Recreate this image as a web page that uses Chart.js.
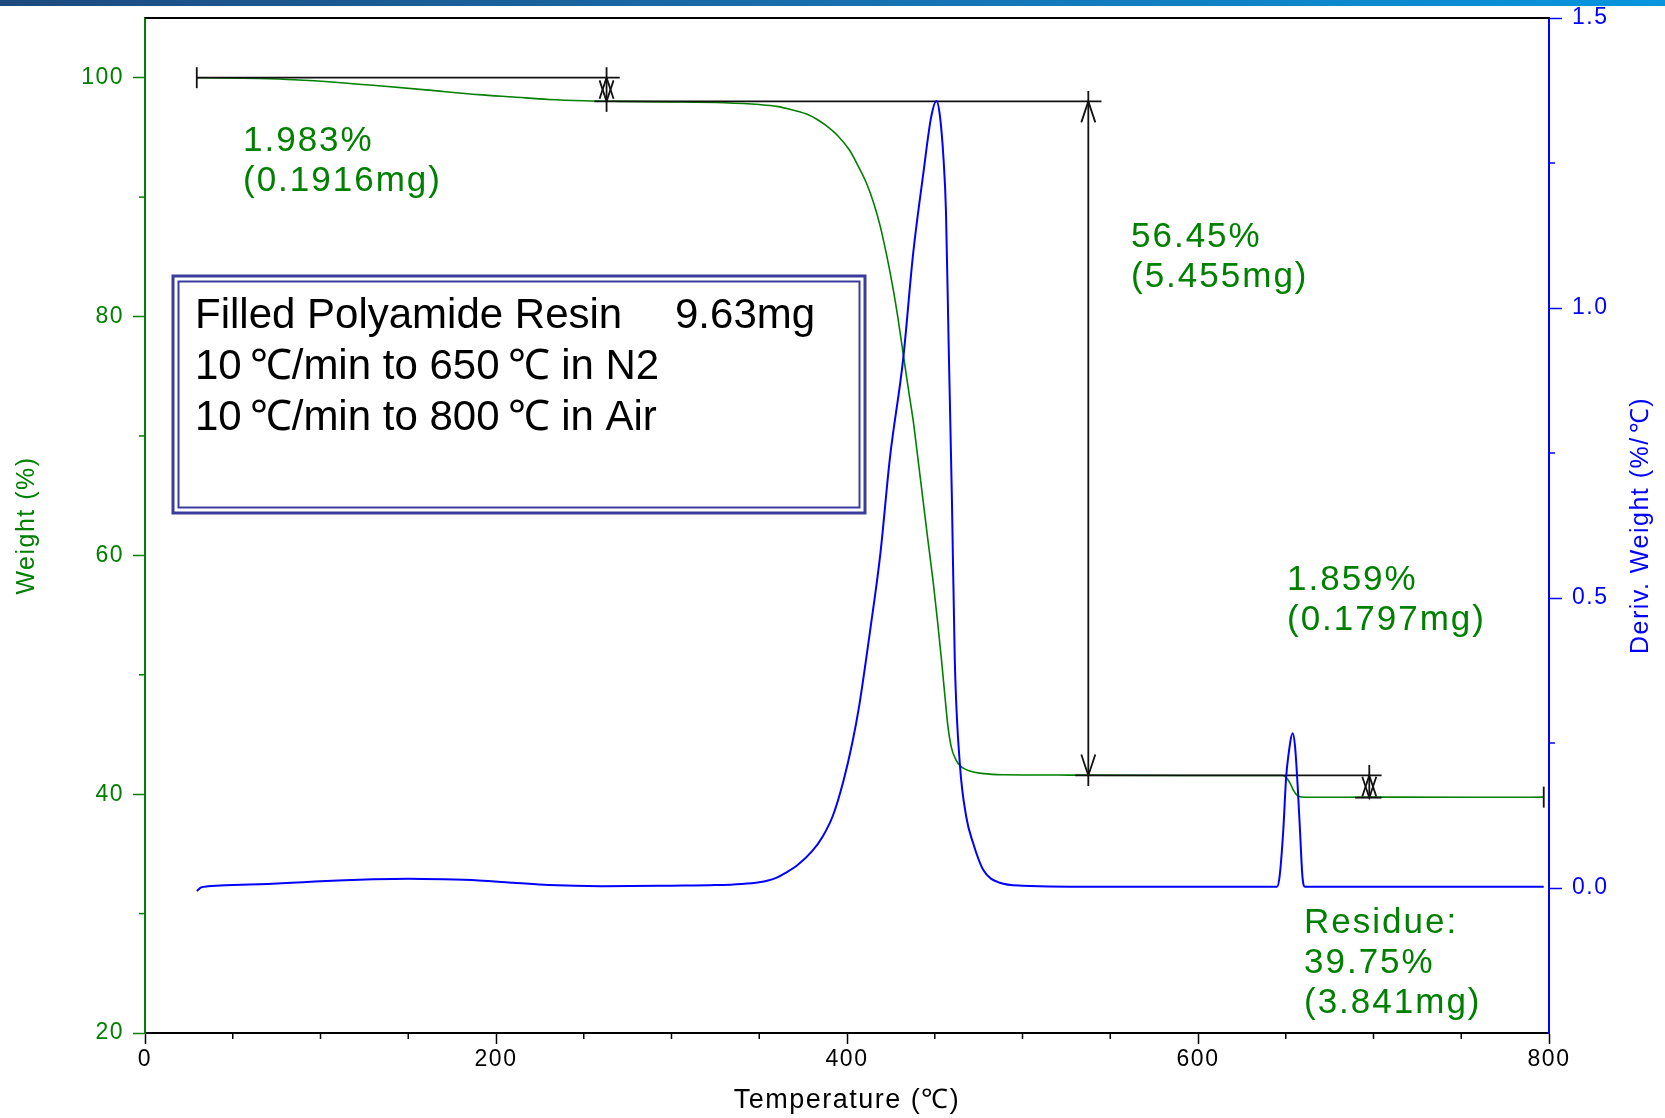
<!DOCTYPE html>
<html>
<head>
<meta charset="utf-8">
<title>TGA – Filled Polyamide Resin</title>
<script src="https://cdn.jsdelivr.net/npm/chart.js@4.4.1/dist/chart.umd.min.js"></script>
<style>
  html, body { margin: 0; padding: 0; background: #fff; }
  #wrap { position: relative; width: 1665px; height: 1118px; }
</style>
</head>
<body>
<div id="wrap"><canvas id="tga" width="1665" height="1118"></canvas></div>
<script>
// ---- Weight curve (Temperature °C -> Weight %) ----
const weightTemp = [29.5, 45, 65, 85, 110, 135, 160, 190, 210, 230, 250, 270, 300, 330, 350, 360, 369, 378, 383, 388,
  395, 401.6, 406, 411, 415, 418.7, 422.5, 426.3, 429, 432, 435, 437.7, 440.5, 443.4, 446, 449, 451.5, 453.8, 455.8, 457.6,
  459.5, 462, 465, 470, 478, 490, 520, 600, 648, 650.5, 652.5, 654.5, 656.5, 659, 663, 700, 760, 797];
const weightPct = [100.0, 99.98, 99.93, 99.83, 99.6, 99.3, 98.98, 98.58, 98.38, 98.18, 98.07, 98.02, 97.98, 97.9, 97.75, 97.6, 97.3, 96.9, 96.5, 96.0,
  95.1, 93.9, 92.7, 91.2, 89.6, 87.7, 85.2, 82.3, 79.9, 76.9, 73.9, 71.3, 68.0, 64.53, 61.4, 57.9, 54.6, 51.3, 48.2, 45.57,
  43.9, 42.9, 42.3, 41.95, 41.72, 41.63, 41.6, 41.57, 41.56, 41.35, 40.9, 40.3, 39.9, 39.76, 39.74, 39.75, 39.74, 39.75];

// ---- Derivative weight curve (Temperature °C -> %/°C) ----
const derivTemp = [29.5, 32, 36, 50, 70, 90, 110, 130, 150, 170, 190, 210, 230, 260, 300, 325, 340, 350, 355, 360,
  365, 372, 380, 386, 392, 398, 403, 407, 413, 419, 424.4, 432, 437.7, 443.4, 448, 451, 453, 455, 456.4, 457.9,
  459.8, 461.4, 464.3, 468, 471.8, 477.5, 487, 500, 550, 600, 645, 646.5, 648.6, 650.2, 651.4, 654, 655.3, 656.8, 658.1, 659.5,
  661, 700, 750, 797];
const derivRate = [-0.005, 0.001, 0.003, 0.005, 0.007, 0.010, 0.013, 0.015, 0.016, 0.015, 0.013, 0.009, 0.005, 0.003, 0.004, 0.005, 0.007, 0.01, 0.013, 0.018,
  0.026, 0.04, 0.063, 0.088, 0.125, 0.185, 0.25, 0.315, 0.44, 0.576, 0.74, 0.912, 1.094, 1.23, 1.33, 1.357, 1.33, 1.257, 1.166, 0.94,
  0.667, 0.395, 0.214, 0.122, 0.078, 0.032, 0.009, 0.004, 0.002, 0.002, 0.002, 0.02, 0.1, 0.19, 0.226, 0.267, 0.244, 0.175, 0.1, 0.02,
  0.002, 0.002, 0.002, 0.002];

// ---- Axis ticks ----
const tempTicks = [0, 200, 400, 600, 800];
const tempMinorTicks = [50, 100, 150, 250, 300, 350, 450, 500, 550, 650, 700, 750];
const weightTicks = [20, 40, 60, 80, 100];
const weightMinorTicks = [30, 50, 70, 90];
const derivTicks = [0.0, 0.5, 1.0, 1.5];
const derivMinorTicks = [0.25, 0.75, 1.25];

// ---- Step analysis ----
const stepLoss = [1.983, 56.45, 1.859];          // % lost in each step
const stepMass = ['0.1916', '5.455', '0.1797'];  // mg lost in each step
const stepMarkerTemp = [263, 537.5, 697.6];      // where each step is measured
const levelLineStart = [29.5, 256, 530, 689.5];  // bracket lines at each level (°C)
const levelLineEnd = [270.5, 545, 704.6, 704.6];
const residuePct = 39.75;
const residueMass = '3.841';
const residueEndTemp = 797;

const levels = [100];
stepLoss.forEach((l, i) => levels.push(+(levels[i] - l).toFixed(3)));

const FONT = '"Liberation Sans", Arial, sans-serif';
const GREEN = '#008000';
const BLUE = '#0000ff';

function tickSetter(values) {
  return scale => { scale.ticks = values.map(v => ({ value: v })); };
}

// fixed axis thickness, no extra label overhang in the layout
function fixSize(prop, size) {
  return s => {
    s[prop] = size;
    s.paddingTop = 0; s.paddingBottom = 0; s.paddingLeft = 0; s.paddingRight = 0;
  };
}

function seg(ctx, x1, y1, x2, y2) {
  ctx.beginPath(); ctx.moveTo(x1, y1); ctx.lineTo(x2, y2); ctx.stroke();
}

// text with a little extra room in front of each degree-Celsius sign
function celsiusWidth(ctx, text, gap) {
  const parts = text.split('℃');
  return ctx.measureText(text).width + gap * (parts.length - 1);
}
function fillCelsius(ctx, text, x, y, gap) {
  let cx = x;
  text.split('℃').forEach((p, i, arr) => {
    ctx.fillText(p, cx, y); cx += ctx.measureText(p).width;
    if (i < arr.length - 1) {
      cx += gap;
      ctx.fillText('℃', cx, y); cx += ctx.measureText('℃').width;
    }
  });
}

// arrowhead with its tip on a level; dir = -1 points up, +1 points down
function arrowHead(ctx, x, yTip, dir) {
  ctx.beginPath();
  ctx.moveTo(x - 7, yTip - dir * 21);
  ctx.lineTo(x, yTip);
  ctx.lineTo(x + 7, yTip - dir * 21);
  ctx.stroke();
}

function drawBrackets(chart) {
  const { ctx, scales: { x, yW } } = chart;
  const px = v => x.getPixelForValue(v);
  const py = v => yW.getPixelForValue(v);
  ctx.save();
  ctx.strokeStyle = '#111';
  ctx.lineWidth = 1.8;
  levels.forEach((lv, i) => seg(ctx, px(levelLineStart[i]), py(lv), px(levelLineEnd[i]), py(lv)));
  // start cap on the 100 % line
  seg(ctx, px(levelLineStart[0]), py(levels[0]) - 10.5, px(levelLineStart[0]), py(levels[0]) + 10.5);
  // step markers
  stepMarkerTemp.forEach((t, i) => {
    const xx = px(t), yTop = py(levels[i]), yBot = py(levels[i + 1]);
    seg(ctx, xx, yTop - 10.5, xx, yBot + (i === 2 ? 0 : 10.5));
    arrowHead(ctx, xx, yTop, -1);
    arrowHead(ctx, xx, yBot, 1);
  });
  // residue end cap
  seg(ctx, px(residueEndTemp), py(residuePct) - 10.5, px(residueEndTemp), py(residuePct) + 10.5);
  ctx.restore();
}

const decor = {
  id: 'decor',
  beforeDraw(chart) {
    chart.ctx.letterSpacing = '1.5px';
  },
  beforeDatasetDraw(chart, args) {
    if (args.index === 1) drawBrackets(chart);
  },
  afterDraw(chart) {
    const { ctx, chartArea: ca, scales: { x, yW, yD } } = chart;
    ctx.save();
    ctx.letterSpacing = '0px';

    // header band
    const g = ctx.createLinearGradient(0, 0, chart.width, 0);
    g.addColorStop(0, '#1d4a7e');
    g.addColorStop(0.5, '#176fae');
    g.addColorStop(1, '#0796de');
    ctx.fillStyle = g;
    ctx.fillRect(0, 0, chart.width, 6);

    // top frame
    ctx.strokeStyle = '#000';
    ctx.lineWidth = 2;
    seg(ctx, ca.left, ca.top, ca.right, ca.top);

    // minor ticks
    ctx.lineWidth = 1.5;
    ctx.strokeStyle = '#000';
    tempMinorTicks.forEach(v => { const p = x.getPixelForValue(v); seg(ctx, p, ca.bottom, p, ca.bottom + 6); });
    ctx.strokeStyle = GREEN;
    weightMinorTicks.forEach(v => { const p = yW.getPixelForValue(v); seg(ctx, ca.left, p, ca.left - 6, p); });
    ctx.strokeStyle = BLUE;
    derivMinorTicks.forEach(v => { const p = yD.getPixelForValue(v); seg(ctx, ca.right, p, ca.right + 6, p); });

    // right axis title, reading bottom to top
    ctx.save();
    ctx.letterSpacing = '1.5px';
    ctx.fillStyle = BLUE;
    ctx.font = '25px ' + FONT;
    ctx.textBaseline = 'middle';
    ctx.textAlign = 'left';
    const dTitle = 'Deriv. Weight (%/℃)';
    const dw = celsiusWidth(ctx, dTitle, 3);
    ctx.translate(1641, (ca.top + ca.bottom) / 2);
    ctx.rotate(-Math.PI / 2);
    fillCelsius(ctx, dTitle, -dw / 2, 0, 3);
    ctx.restore();

    // method box
    ctx.strokeStyle = '#3c3c9e';
    ctx.lineWidth = 3;
    ctx.strokeRect(173, 276, 692, 237);
    ctx.lineWidth = 2;
    ctx.strokeRect(178.5, 281.5, 681, 226);
    ctx.fillStyle = '#000';
    ctx.font = '42px ' + FONT;
    ctx.textBaseline = 'middle';
    ctx.textAlign = 'left';
    ctx.fillText('Filled Polyamide Resin', 195, 316);
    ctx.fillText('9.63mg', 675, 316);
    fillCelsius(ctx, '10℃/min to 650℃ in N2', 195, 367, 8);
    fillCelsius(ctx, '10℃/min to 800℃ in Air', 195, 418, 8);

    // step labels
    ctx.fillStyle = GREEN;
    ctx.font = '35px ' + FONT;
    ctx.letterSpacing = '2px';
    ctx.textBaseline = 'alphabetic';
    const labelPos = [[243, 151], [1131, 246.5], [1287, 590]];
    stepLoss.forEach((l, i) => {
      const [lx, ly] = labelPos[i];
      ctx.fillText(l + '%', lx, ly);
      ctx.fillText('(' + stepMass[i] + 'mg)', lx, ly + 40);
    });
    ctx.fillText('Residue:', 1304, 933);
    ctx.fillText(residuePct + '%', 1304, 973);
    ctx.fillText('(' + residueMass + 'mg)', 1304, 1013);
    ctx.restore();
  }
};

const ctx = document.getElementById('tga').getContext('2d');
new Chart(ctx, {
  type: 'line',
  data: {
    datasets: [
      {
        label: 'Weight (%)',
        data: weightTemp.map((t, i) => ({ x: t, y: weightPct[i] })),
        yAxisID: 'yW',
        borderColor: GREEN,
        borderWidth: 1.6,
        pointRadius: 0,
        cubicInterpolationMode: 'monotone',
        order: 1
      },
      {
        label: 'Deriv. Weight (%/℃)',
        data: derivTemp.map((t, i) => ({ x: t, y: derivRate[i] })),
        yAxisID: 'yD',
        borderColor: BLUE,
        borderWidth: 2,
        pointRadius: 0,
        cubicInterpolationMode: 'monotone',
        order: 0
      }
    ]
  },
  options: {
    responsive: false,
    animation: false,
    devicePixelRatio: 1,
    layout: { padding: { top: 18, left: 0, right: 0, bottom: 0 } },
    plugins: { legend: { display: false }, tooltip: { enabled: false } },
    scales: {
      x: {
        type: 'linear',
        position: 'bottom',
        min: 0, max: 800,
        afterBuildTicks: tickSetter(tempTicks),
        afterFit: fixSize('height', 85),
        grid: { drawOnChartArea: false, tickLength: 11, tickColor: '#000', tickWidth: 1.5 },
        border: { color: '#000', width: 2 },
        ticks: { color: '#000', padding: 2, maxRotation: 0, font: { family: FONT, size: 23 }, callback: v => String(v) },
        title: { display: true, text: 'Temperature (℃)', color: '#000', font: { family: FONT, size: 27 }, padding: { top: 0, bottom: 1.5 } }
      },
      yW: {
        type: 'linear',
        position: 'left',
        min: 20, max: 105,
        afterBuildTicks: tickSetter(weightTicks),
        afterFit: fixSize('width', 145),
        grid: { drawOnChartArea: false, tickLength: 12, tickColor: GREEN, tickWidth: 1.5 },
        border: { color: GREEN, width: 2 },
        ticks: { color: GREEN, padding: 9, font: { family: FONT, size: 23 }, callback: v => String(v) },
        title: { display: true, text: 'Weight (%)', color: GREEN, font: { family: FONT, size: 25 }, padding: { top: 12, bottom: 0 } }
      },
      yD: {
        type: 'linear',
        position: 'right',
        min: -0.25, max: 1.5,
        afterBuildTicks: tickSetter(derivTicks),
        afterFit: fixSize('width', 116),
        grid: { drawOnChartArea: false, tickLength: 13, tickColor: BLUE, tickWidth: 1.5 },
        border: { color: BLUE, width: 2 },
        ticks: { color: BLUE, padding: 10, font: { family: FONT, size: 23 }, callback: v => v.toFixed(1) },
        title: { display: false }
      }
    }
  },
  plugins: [decor]
});
</script>
</body>
</html>
